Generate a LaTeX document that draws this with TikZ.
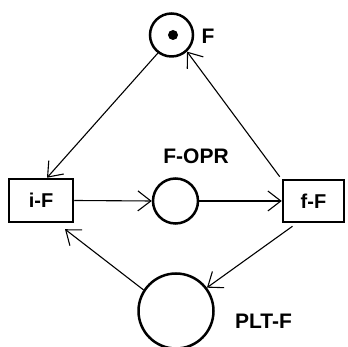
\documentclass[tikz,border=0pt]{standalone}
\usepackage{fontspec}
\setmainfont{Liberation Sans}
\usetikzlibrary{arrows.meta}
\begin{document}
\begin{tikzpicture}[x=1pt,y=1pt,
  place/.style={circle,draw,line width=2.5pt,inner sep=0pt},
  trans/.style={rectangle,draw,line width=2.5pt,inner sep=0pt,font=\fontsize{20}{22}\selectfont\bfseries},
  lbl/.style={font=\fontsize{21}{23}\selectfont\bfseries,inner sep=0pt},
  arc/.style={line width=1.1pt,-{Straight Barb[length=13pt,width=20pt,line width=1.1pt]}}]
\useasboundingbox (0,0) rectangle (348,347);
\node[place,minimum size=43pt] (F) at (171.5,312) {};
\node[circle,fill,inner sep=0pt,minimum size=10pt] (tok) at (173,312) {};
\node[lbl] (Fl) at (208,311) {F};
\node[trans,minimum width=64pt,minimum height=43pt] (iF) at (41,146.5) {i-F};
\node[place,minimum size=45pt] (OPR) at (175.5,146) {};
\node[lbl] (OPRl) at (196,191) {F-OPR};
\node[trans,minimum width=61pt,minimum height=42pt] (fF) at (313.5,146) {f-F};
\node[place,minimum size=75pt] (PLT) at (176,36) {};
\node[lbl] (PLTl) at (263.5,25.5) {PLT-F};
\draw[arc] (F.233) -- ([xshift=6pt]iF.north);
\draw[arc] ([shift={(-2pt,2pt)}]fF.north west) -- (F.313);
\draw[arc] (iF.east) -- (OPR.west);
\draw[arc] (OPR.east) -- (fF.west);
\draw[arc] ([shift={(-21pt,-3pt)}]fF.south) -- (PLT.37);
\draw[arc] (PLT.147) -- ([shift={(24pt,-6pt)}]iF.south);
\end{tikzpicture}
\end{document}
